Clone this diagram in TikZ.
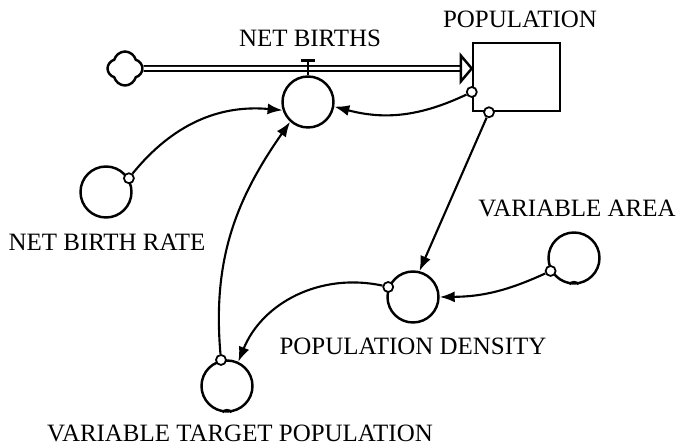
\documentclass[tikz,border=0pt]{standalone}
\usepackage{fontspec}
\setmainfont{Liberation Serif}
\usetikzlibrary{arrows.meta,shapes.symbols}

\begin{document}
\begin{tikzpicture}[x=0.02cm,y=0.02cm]

      \tikzset{converter/.style={draw, circle, line width=1.4pt, minimum size=1.02cm, inner sep=0pt},
               stockbox/.style={draw, rectangle, line width=1.4pt, minimum width=1.74cm, minimum height=1.36cm, inner sep=0pt},
               tap/.style={draw, circle, line width=1pt, minimum size=0.2cm, inner sep=0pt, fill=white},
               conn/.style={line width=1.2pt, -{Latex[length=0.3cm,width=0.22cm]}},
               pipe/.style={draw, double, line width=1pt, double distance=0.06cm},
               lbl/.style={font=\fontsize{14.2}{17}\selectfont, inner sep=0pt}}
      \useasboundingbox (0,0) rectangle (677,446);
%% Stock, source and converters
      	\node[stockbox] (pop) at (516.5,369) {};
      	\node[draw, cloud, cloud puffs=4, aspect=1, minimum width=0.7cm, minimum height=0.68cm, line width=1.4pt, inner sep=0pt] (cloud) at (125,377.5) {};
      	\node[converter] (valve) at (308,344) {};
      	\node[converter] (nbr) at (106,254) {};
      	\node[converter] (dens) at (413,149) {};
      	\node[converter] (area) at (574,188) {};
      	\node[converter] (target) at (227,60) {};
%% Labels
      	\node[lbl] (lnb) at (310,408) {NET BIRTHS};
      	\node[lbl] (lpop) at (520,427) {POPULATION};
      	\node[lbl] (lnbr) at (107,204) {NET BIRTH RATE};
      	\node[lbl] (larea) at (577,238) {VARIABLE AREA};
      	\node[lbl] (ldens) at (413,100) {POPULATION DENSITY};
      	\node[lbl] (ltgt) at (240,13) {VARIABLE TARGET POPULATION};
%Flow
      	\coordinate (inflow) at ([yshift=0.17cm]pop.west);
      	\coordinate (head) at ([xshift=-0.22cm]inflow);
		\path[pipe] (cloud) -- (head);
		\draw[line width=1.4pt, fill=white] ([yshift=0.26cm]head) -- (inflow) -- ([yshift=-0.26cm]head) -- cycle;
		\draw[line width=1.4pt] (valve.north) -- ++(0,15) coordinate (ttop);
		\draw[line width=1.6pt] ([xshift=-0.15cm]ttop) -- ([xshift=0.15cm]ttop);
%Graph marks
		\draw[line width=1pt] ([xshift=-0.08cm]target.south) .. controls +(0,4) and +(0,4) .. ([xshift=0.08cm]target.south);
		\draw[line width=1pt] ([xshift=-0.08cm]area.south) .. controls +(0,4) and +(0,4) .. ([xshift=0.08cm]area.south);
%Connectors
      	\node[tap] (tapa) at ([yshift=-0.3cm]pop.west) {};
      	\node[tap] (tapb) at ([xshift=-0.55cm]pop.south) {};
      	\node[tap] (tapc) at (nbr.31) {};
      	\node[tap] (tapd) at (dens.158) {};
      	\node[tap] (tape) at (area.209) {};
      	\node[tap] (tapf) at (target.103) {};
		\draw[conn] (tapa) to[bend left=20] (valve.350);
		\draw[conn] (tapc) to[bend left=28] (valve.198);
		\draw[conn] (tapf) to[out=95, in=235] (valve.228);
		\draw[conn] (tapb) -- (dens.76);
		\draw[conn] (tape) to[bend left=12] (dens.0);
		\draw[conn] (tapd) to[bend right=40] (target.65);

	\end{tikzpicture}
\end{document}
